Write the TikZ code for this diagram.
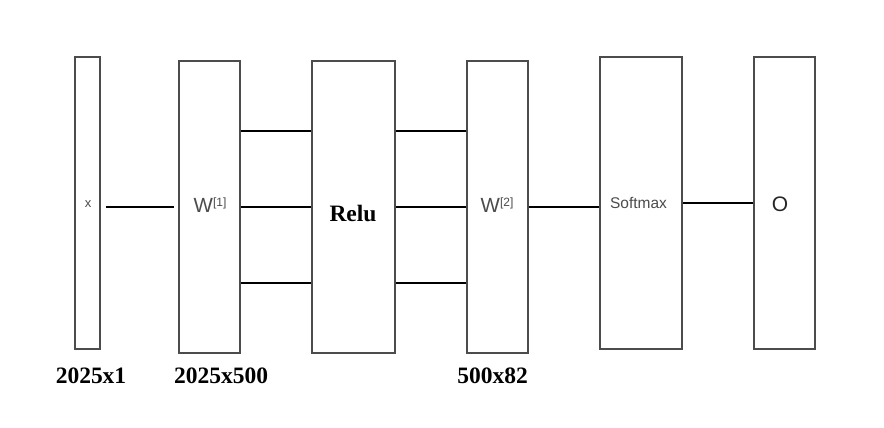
\documentclass[tikz,border=0pt]{standalone}
\usepackage{fontspec}
\setmainfont{Liberation Sans}
\newfontfamily\timesf{Liberation Serif}
\begin{document}
\begin{tikzpicture}[x=1pt,y=-1pt,
  layerbox/.style={draw=black!70,line width=1.3pt,fill=white,rectangle,inner sep=0pt,minimum height=292pt},
  intext/.style={text=black!70,inner sep=0pt,font=\fontsize{#1}{#1}\selectfont},
  conn/.style={draw=black,line width=2pt},
  dimlabel/.style={anchor=base,inner sep=0pt,font=\timesf\bfseries\fontsize{23.5}{23.5}\selectfont}]
\useasboundingbox (0,0) rectangle (884,428);
\fill[white] (0,0) rectangle (884,428);
% boxes
\node[layerbox,minimum width=25pt] (xb) at (87.5,203) {};
\node[layerbox,minimum width=61pt] (w1) at (209.5,207) {};
\node[layerbox,minimum width=83pt] (relu) at (353.5,207) {};
\node[layerbox,minimum width=61pt] (w2) at (497.5,207) {};
\node[layerbox,minimum width=82pt] (soft) at (641,203) {};
\node[layerbox,minimum width=61pt] (ob) at (784.5,203) {};
% texts inside boxes
\node[intext=13] (xt) at (88,204.5) {x};
\node[intext=20.5] (w1t) at (210,205) {W\raisebox{6pt}{\fontsize{12}{12}\selectfont[1]}};
\node[inner sep=0pt,font=\timesf\bfseries\fontsize{23.5}{23.5}\selectfont] (relut) at (353,213) {Relu};
\node[intext=20.5] (w2t) at (497,205) {W\raisebox{6pt}{\fontsize{12}{12}\selectfont[2]}};
\node[intext=15.5] (softt) at (638.5,203) {Softmax};
\node[intext=21,text=black!85] (ot) at (780,204) {O};
% connectors
\draw[conn] ([xshift=5pt]xb.east |- w1.east) -- ([xshift=-4pt]w1.west);
\foreach \dy in {76,0,-76}{
  \draw[conn] ([yshift=\dy pt]w1.east) -- ([yshift=\dy pt]relu.west);
  \draw[conn] ([yshift=\dy pt]relu.east) -- ([yshift=\dy pt]w2.west);
}
\draw[conn] (w2.east) -- (soft.west |- w2.east);
\draw[conn] (soft.east) -- (ob.west);
% dimension labels
\node[dimlabel] (l1) at (91,383) {2025x1};
\node[dimlabel] (l2) at (221,383) {2025x500};
\node[dimlabel] (l3) at (492.5,383) {500x82};
\end{tikzpicture}
\end{document}
